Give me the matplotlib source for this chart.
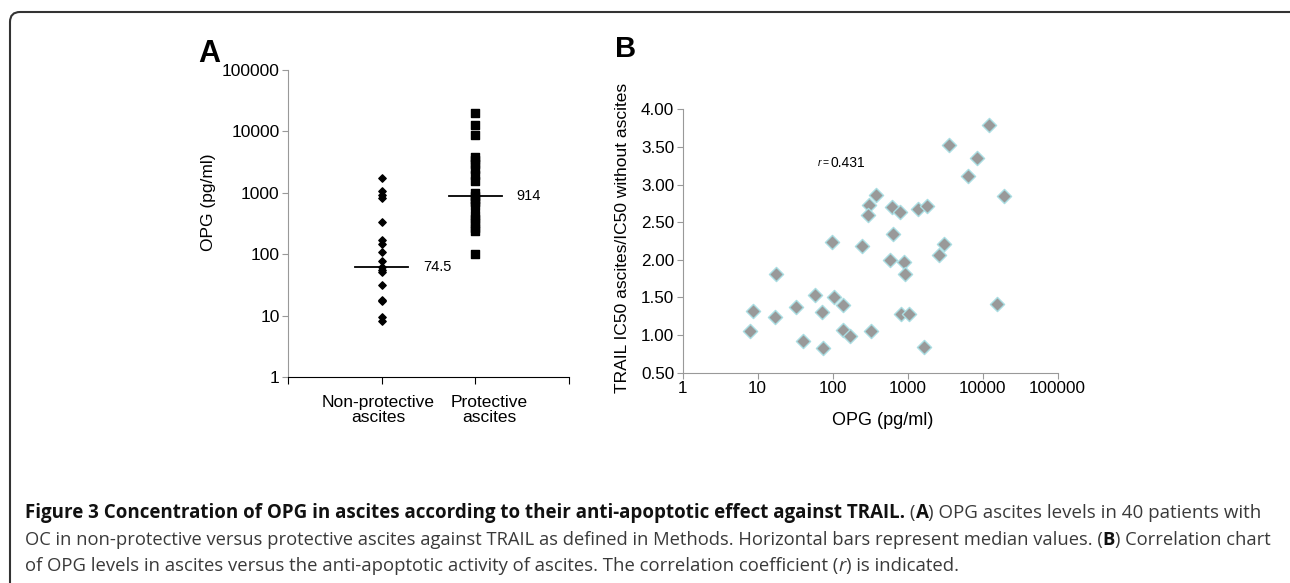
import matplotlib
matplotlib.use("Agg")
import matplotlib.pyplot as plt
from matplotlib.patches import FancyBboxPatch
from matplotlib.ticker import FixedLocator, NullFormatter, FixedFormatter

plt.rcParams["font.family"] = ["Liberation Sans", "DejaVu Sans"]

# ---- Panel A data: OPG (pg/ml) per group ----
groups = ["Non-protective\nascites", "Protective\nascites"]
opg_nonprot = [1740, 1050, 920, 820, 330, 172, 145, 108, 78, 62, 55, 52, 32, 18, 17, 9.4, 8.2]
opg_prot = [20000, 12800, 8900, 3900, 3400, 2900, 2400, 1980, 1540, 1000, 900, 800,
            700, 600, 440, 380, 320, 270, 235, 100]
median_pos = [61, 874]          # where the median bars are drawn
median_text = ["74.5", "914"]

# ---- Panel B data: OPG vs TRAIL IC50 ratio ----
opg_b = [12250, 3520, 8300, 6300, 19400, 378, 302, 296, 612, 789, 1360, 1830, 631, 97,
         244, 3050, 2640, 581, 893, 17.5, 920, 58, 104, 139, 15400, 8.75, 32, 17, 73,
         813, 1050, 7.9, 139, 324, 170, 40, 75, 1670]
ratio_b = [3.79, 3.53, 3.355, 3.11, 2.85, 2.857, 2.733, 2.59, 2.697, 2.635, 2.68, 2.71,
           2.337, 2.235, 2.187, 2.213, 2.07, 2.00, 1.977, 1.813, 1.813, 1.537, 1.50, 1.404,
           1.413, 1.324, 1.368, 1.244, 1.301, 1.28, 1.28, 1.057, 1.066, 1.057, 0.99, 0.92,
           0.822, 0.844]
r_value = "0.431"

W, H = 1290, 583
fig = plt.figure(figsize=(W / 100, H / 100), dpi=100)

# rounded frame (open at right/bottom edge like the source)
frame = FancyBboxPatch((10, -40), W + 20, H + 40 - 12,
                       boxstyle="round,pad=0,rounding_size=10",
                       fill=False, edgecolor="#333333", linewidth=1.5,
                       transform=None)
fig.patches.append(frame)


def px_axes(l, t, r, b):
    return fig.add_axes([l / W, 1 - b / H, (r - l) / W, (b - t) / H])


# ================= Panel A =================
axA = px_axes(288, 70, 569, 377)
axA.set_yscale("log")
axA.set_ylim(1, 100000)
axA.set_xlim(0, 3)
axA.scatter([1] * len(opg_nonprot), opg_nonprot, marker="D", s=14, color="black", zorder=3)
axA.scatter([2] * len(opg_prot), opg_prot, marker="s", s=28, color="black", zorder=3)
for i, (m, t) in enumerate(zip(median_pos, median_text)):
    axA.plot([i + 1 - 0.28, i + 1 + 0.28], [m, m], color="black", lw=1.3, zorder=4)
    axA.text(i + 1 + 0.44, m, t, fontsize=10.5, va="center", ha="left")

axA.spines["top"].set_visible(False)
axA.spines["right"].set_visible(False)
axA.spines["left"].set_color("#999999")
axA.spines["bottom"].set_color("black")
axA.yaxis.set_major_locator(FixedLocator([1, 10, 100, 1000, 10000, 100000]))
axA.yaxis.set_major_formatter(FixedFormatter(["1", "10", "100", "1000", "10000", "100000"]))
axA.yaxis.set_minor_locator(FixedLocator([]))
axA.tick_params(axis="y", direction="out", length=4, color="#999999", labelsize=12.5, pad=2)
axA.xaxis.set_major_locator(FixedLocator([0, 1, 2, 3]))
axA.xaxis.set_major_formatter(NullFormatter())
axA.xaxis.set_minor_locator(FixedLocator([0.96, 2.15]))
axA.xaxis.set_minor_formatter(FixedFormatter(groups))
axA.tick_params(axis="x", which="major", direction="out", length=5, color="black")
axA.tick_params(axis="x", which="minor", length=0, labelsize=12.5, pad=13)
for lab in axA.xaxis.get_minorticklabels():
    lab.set_linespacing(1.0)
axA.set_ylabel("OPG (pg/ml)", fontsize=12.5)
axA.yaxis.set_label_coords(-0.258, 0.57)
fig.text(198 / W, 1 - 62 / H, "A", fontsize=22, fontweight="bold", ha="left", va="baseline")

# ================= Panel B =================
axB = px_axes(682.7, 109.3, 1057.7, 372.7)
axB.set_xscale("log")
axB.set_xlim(1, 100000)
axB.set_ylim(0.5, 4.0)
axB.scatter(opg_b, ratio_b, marker="D", s=52, color="#999999",
            edgecolors="#a9dde2", linewidths=1.0, zorder=3)
for s in ["top", "right"]:
    axB.spines[s].set_visible(False)
for s in ["left", "bottom"]:
    axB.spines[s].set_color("#999999")
axB.xaxis.set_major_locator(FixedLocator([1, 10, 100, 1000, 10000, 100000]))
axB.xaxis.set_major_formatter(FixedFormatter(["1", "10", "100", "1000", "10000", "100000"]))
axB.xaxis.set_minor_locator(FixedLocator([]))
yt = [0.5, 1.0, 1.5, 2.0, 2.5, 3.0, 3.5, 4.0]
axB.yaxis.set_major_locator(FixedLocator(yt))
axB.yaxis.set_major_formatter(FixedFormatter([f"{v:.2f}" for v in yt]))
axB.tick_params(direction="out", length=4, color="#999999", labelsize=12.3, pad=2)
axB.set_xlabel("OPG (pg/ml)", fontsize=13)
axB.xaxis.set_label_coords(0.534, -0.15)
axB.set_ylabel("TRAIL IC50 ascites/IC50 without ascites", fontsize=12.5)
axB.yaxis.set_label_coords(-0.14, 0.513)
axB.text(63, 3.288, "r", fontsize=7.5, style="italic", va="center", ha="left")
axB.text(73, 3.288, "=", fontsize=7.5, va="center", ha="left")
axB.text(94, 3.288, r_value, fontsize=10, va="center", ha="left")
fig.text(615 / W, 1 - 57 / H, "B", fontsize=21, fontweight="bold", ha="left", va="baseline")

# ================= Caption =================
cap_font = ["Open Sans", "DejaVu Sans"]
caption = [
    [("Figure 3 Concentration of OPG in ascites according to their anti-apoptotic effect against TRAIL.", "bold", "normal"),
     (" (", "normal", "normal"), ("A", "bold", "normal"),
     (") OPG ascites levels in 40 patients with", "normal", "normal")],
    [("OC in non-protective versus protective ascites against TRAIL as defined in Methods. Horizontal bars represent median values. (", "normal", "normal"),
     ("B", "bold", "normal"), (") Correlation chart", "normal", "normal")],
    [("of OPG levels in ascites versus the anti-apoptotic activity of ascites. The correlation coefficient (", "normal", "normal"),
     ("r", "normal", "italic"), (") is indicated.", "normal", "normal")],
]
line_y = [513, 540, 566]
line_w = [1240, 1245, None]     # target pixel widths of the full lines
renderer = fig.canvas.get_renderer()


def draw_line(parts, y, size, x0=25):
    x = x0
    made = []
    for txt, wt, st in parts:
        col = "#111111" if wt == "bold" else "#3a3a3a"
        t = fig.text(x / W, 1 - y / H, txt, fontsize=size, fontweight=wt, style=st,
                     family=cap_font, color=col, ha="left", va="center")
        made.append(t)
        x = t.get_window_extent(renderer).x1
    return x - x0, made


sizes = []
for parts, target in zip(caption, line_w):
    if target is None:
        sizes.append(sum(sizes) / len(sizes))
        continue
    w, made = draw_line(parts, -100, 10)
    for t in made:
        t.remove()
    sizes.append(10 * target / w)

for parts, y, size in zip(caption, line_y, sizes):
    draw_line(parts, y, size)

fig.savefig("out.png", dpi=100)
